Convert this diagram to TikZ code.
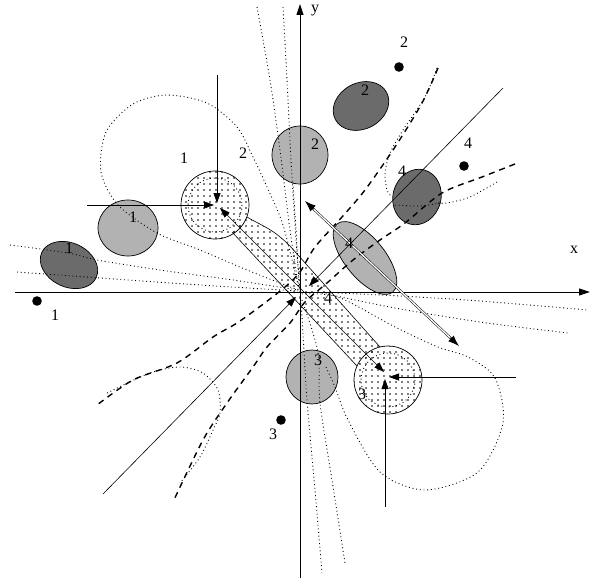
\documentclass[tikz,border=0pt]{standalone}
\usepackage{fontspec}
\setmainfont{Liberation Serif}
\usetikzlibrary{arrows.meta,patterns.meta,calc}
\begin{document}
\begin{tikzpicture}[x=1pt,y=-1pt,
  lbl/.style={font=\fontsize{16}{18}\selectfont, inner sep=0pt},
  axis/.style={line width=1pt,-{Triangle[length=11pt,width=7pt]}},
  vec/.style={line width=0.8pt,-{Triangle[length=10pt,width=7pt]}},
  fl/.style={line width=0.9pt, dash pattern=on 0.9pt off 2.8pt},
  sep/.style={line width=1.4pt, dash pattern=on 6pt off 5pt},
  dark/.style={draw, line width=0.7pt, fill=black!58},
  med/.style={draw, line width=0.7pt, fill=black!30},
  sparse/.style={draw, line width=0.7pt, pattern={Dots[distance=6pt,radius=0.8pt]}},
  spot/.style={fill=black},
  ]
\useasboundingbox (0,0) rectangle (595,586);

% centres
\coordinate (O) at (300,292);
\coordinate (c1) at (215,205);
\coordinate (c3) at (388,380);

% band between the two circles
\fill[pattern={Dots[distance=6pt,radius=0.8pt]}] (247,217) .. controls (262,226) and (272,228) .. (290,246) -- (380,347) -- (357,366) -- (232,232) -- cycle;
\coordinate (bu1) at (247,217);
\coordinate (bu2) at (290,246);
\coordinate (bu3) at (380,347);
\coordinate (bl1) at (232,232);
\coordinate (bl2) at (357,366);
\draw[line width=0.6pt] (bu1) .. controls (262,226) and (272,228) .. (bu2) -- (bu3);
\draw[line width=0.6pt] (bl1) -- (bl2);

% shapes
\draw[dark, shift={(69,265)}, rotate=-25] (0,0) ellipse [x radius=30, y radius=22];
\draw[med] (128,228) ellipse [x radius=30, y radius=28];
\draw[sparse] (c1) circle (34);
\draw[fl] (c1) circle (27);
\draw[med] (300,155) ellipse [x radius=28, y radius=29];
\draw[dark, shift={(361,106)}, rotate=28] (0,0) ellipse [x radius=29, y radius=23];
\draw[dark, shift={(417,197)}, rotate=-15] (0,0) ellipse [x radius=24, y radius=28];
\draw[med, shift={(365,258)}, rotate=-51] (0,0) ellipse [x radius=44, y radius=20];
\draw[med] (312,377) ellipse [x radius=26, y radius=27];
\draw[sparse] (c3) circle (34);
\draw[fl] (c3) circle (27);

% field lines (dotted)
\draw[fl] plot[smooth] coordinates {(257,7) (270,80) (280,150) (290,230) (299,290)};
\draw[fl] plot[smooth] coordinates {(283,7) (287,80) (291,160) (296,240) (300,290)};
\draw[fl] plot[smooth] coordinates {(293,183) (296,230) (299,285)};
\draw[fl] plot[smooth] coordinates {(298,290) (247,270) (200,250) (157,233) (118,205) (101,172) (106,132) (133,104) (167,95) (207,103) (237,127) (253,157) (267,187) (283,225) (298,285)};
\draw[fl] plot[smooth] coordinates {(10,245) (68,253) (97,260) (160,270) (233,280) (298,290)};
\draw[fl] plot[smooth] coordinates {(17,272) (100,278) (200,285) (298,291)};
\draw[fl] plot[smooth] coordinates {(300,296) (302,317) (307,400) (315,490) (322,573)};
\draw[fl] plot[smooth] coordinates {(302,300) (318,352) (320,403) (332,480) (345,563)};
\draw[fl] plot[smooth] coordinates {(302,294) (338,297) (395,327) (438,347) (468,357) (495,378) (503,423) (478,472) (425,490) (380,472) (348,420) (335,387) (325,365)};
\draw[fl] plot[smooth] coordinates {(322,293) (395,308) (480,322) (568,333)};
\draw[fl] plot[smooth] coordinates {(338,293) (400,296) (480,301) (588,310)};
\draw[fl] plot[smooth] coordinates {(437,68) (425,97) (403,130) (390,153) (385,173) (387,190) (392,197)};
\draw[fl] plot[smooth] coordinates {(497,182) (470,197) (447,203) (438,203)};
\draw[fl] plot[smooth] coordinates {(395,205) (420,206) (440,203)};
\draw[fl] plot[smooth] coordinates {(107,393) (150,373) (180,367) (203,373) (218,390) (220,413) (213,430) (200,457) (180,483)};

% separatrices (dashed)
\draw[sep] plot[smooth] coordinates {(438,68) (422,103) (395,147) (365,190) (342,217) (315,247) (300,272) (285,287) (262,305) (237,323) (213,337) (177,363) (133,380) (97,405)};
\draw[sep] plot[smooth] coordinates {(515,164) (482,177) (442,193) (405,223) (380,240) (353,260) (327,283) (305,302) (290,323) (267,347) (253,367) (227,403) (203,440) (173,502)};

% axes
\coordinate (xs) at (15,292);
\coordinate (xe) at (590,292);
\coordinate (ys) at (300,578);
\coordinate (ye) at (300,4);
\draw[axis] (xs) -- (xe);
\draw[axis] (ys) -- (ye);
\node[lbl] (ly) at (315,11) {y};
\node[lbl] (lx) at (574,250) {x};

% diagonal lines to origin
\coordinate (dg1) at (503,88);
\coordinate (dg1e) at (309,286);
\coordinate (dg2) at (103,494);
\coordinate (dg2e) at (296,297);
\draw[vec, line width=0.6pt] (dg1) -- (dg1e);
\draw[vec, line width=0.6pt] (dg2) -- (dg2e);

% arrows onto circle centres
\coordinate (a1) at (217,75);
\coordinate (a1e) at (217,203);
\coordinate (a2) at (87,205);
\coordinate (a2e) at (214,205);
\draw[vec] (a1) -- (a1e);
\draw[vec] (a2) -- (a2e);
\coordinate (a3) at (516,377);
\coordinate (a3e) at (389,377);
\coordinate (a4) at (385,507);
\coordinate (a4e) at (385,379);
\draw[vec] (a3) -- (a3e);
\draw[vec] (a4) -- (a4e);

% band axis arrow
\coordinate (b1) at (220,208);
\coordinate (b2) at (384,372);
\draw[line width=0.6pt, {Triangle[length=10pt,width=7pt]}-{Triangle[length=10pt,width=7pt]}] (b1) -- (b2);

% double arrow across ellipse 4
\coordinate (p) at (305,201);
\coordinate (q) at (459,346);
\draw[double, double distance=1.3pt, line width=0.5pt, shorten <=8pt, shorten >=8pt] (p) -- (q);
\draw[-{Latex[length=11pt,width=8pt]}, line width=0.8pt] ($(p)!12pt!(q)$) -- (p);
\draw[-{Latex[length=11pt,width=8pt]}, line width=0.8pt] ($(q)!12pt!(p)$) -- (q);

% black spots
\fill[spot] (37,301) circle (4.8);
\fill[spot] (399,67) circle (4.8);
\fill[spot] (464,166) circle (4.8);
\fill[spot] (281,420) circle (4.8);

% labels
\node[lbl] (t1) at (55,315) {1};
\node[lbl] (t2) at (404,42) {2};
\node[lbl] (t3) at (468,143) {4};
\node[lbl] (t4) at (273,434) {3};
\node[lbl] (t5) at (184,158) {1};
\node[lbl] (t6) at (243,153) {2};
\node[lbl] (t7) at (133,217) {1};
\node[lbl] (t8) at (69,248) {1};
\node[lbl] (t9) at (315,144) {2};
\node[lbl] (t10) at (365,90) {2};
\node[lbl] (t11) at (402,171) {4};
\node[lbl] (t12) at (349,243) {4};
\node[lbl] (t13) at (328,298) {4};
\node[lbl] (t14) at (318,360) {3};
\node[lbl] (t15) at (362,394) {3};
\end{tikzpicture}
\end{document}
